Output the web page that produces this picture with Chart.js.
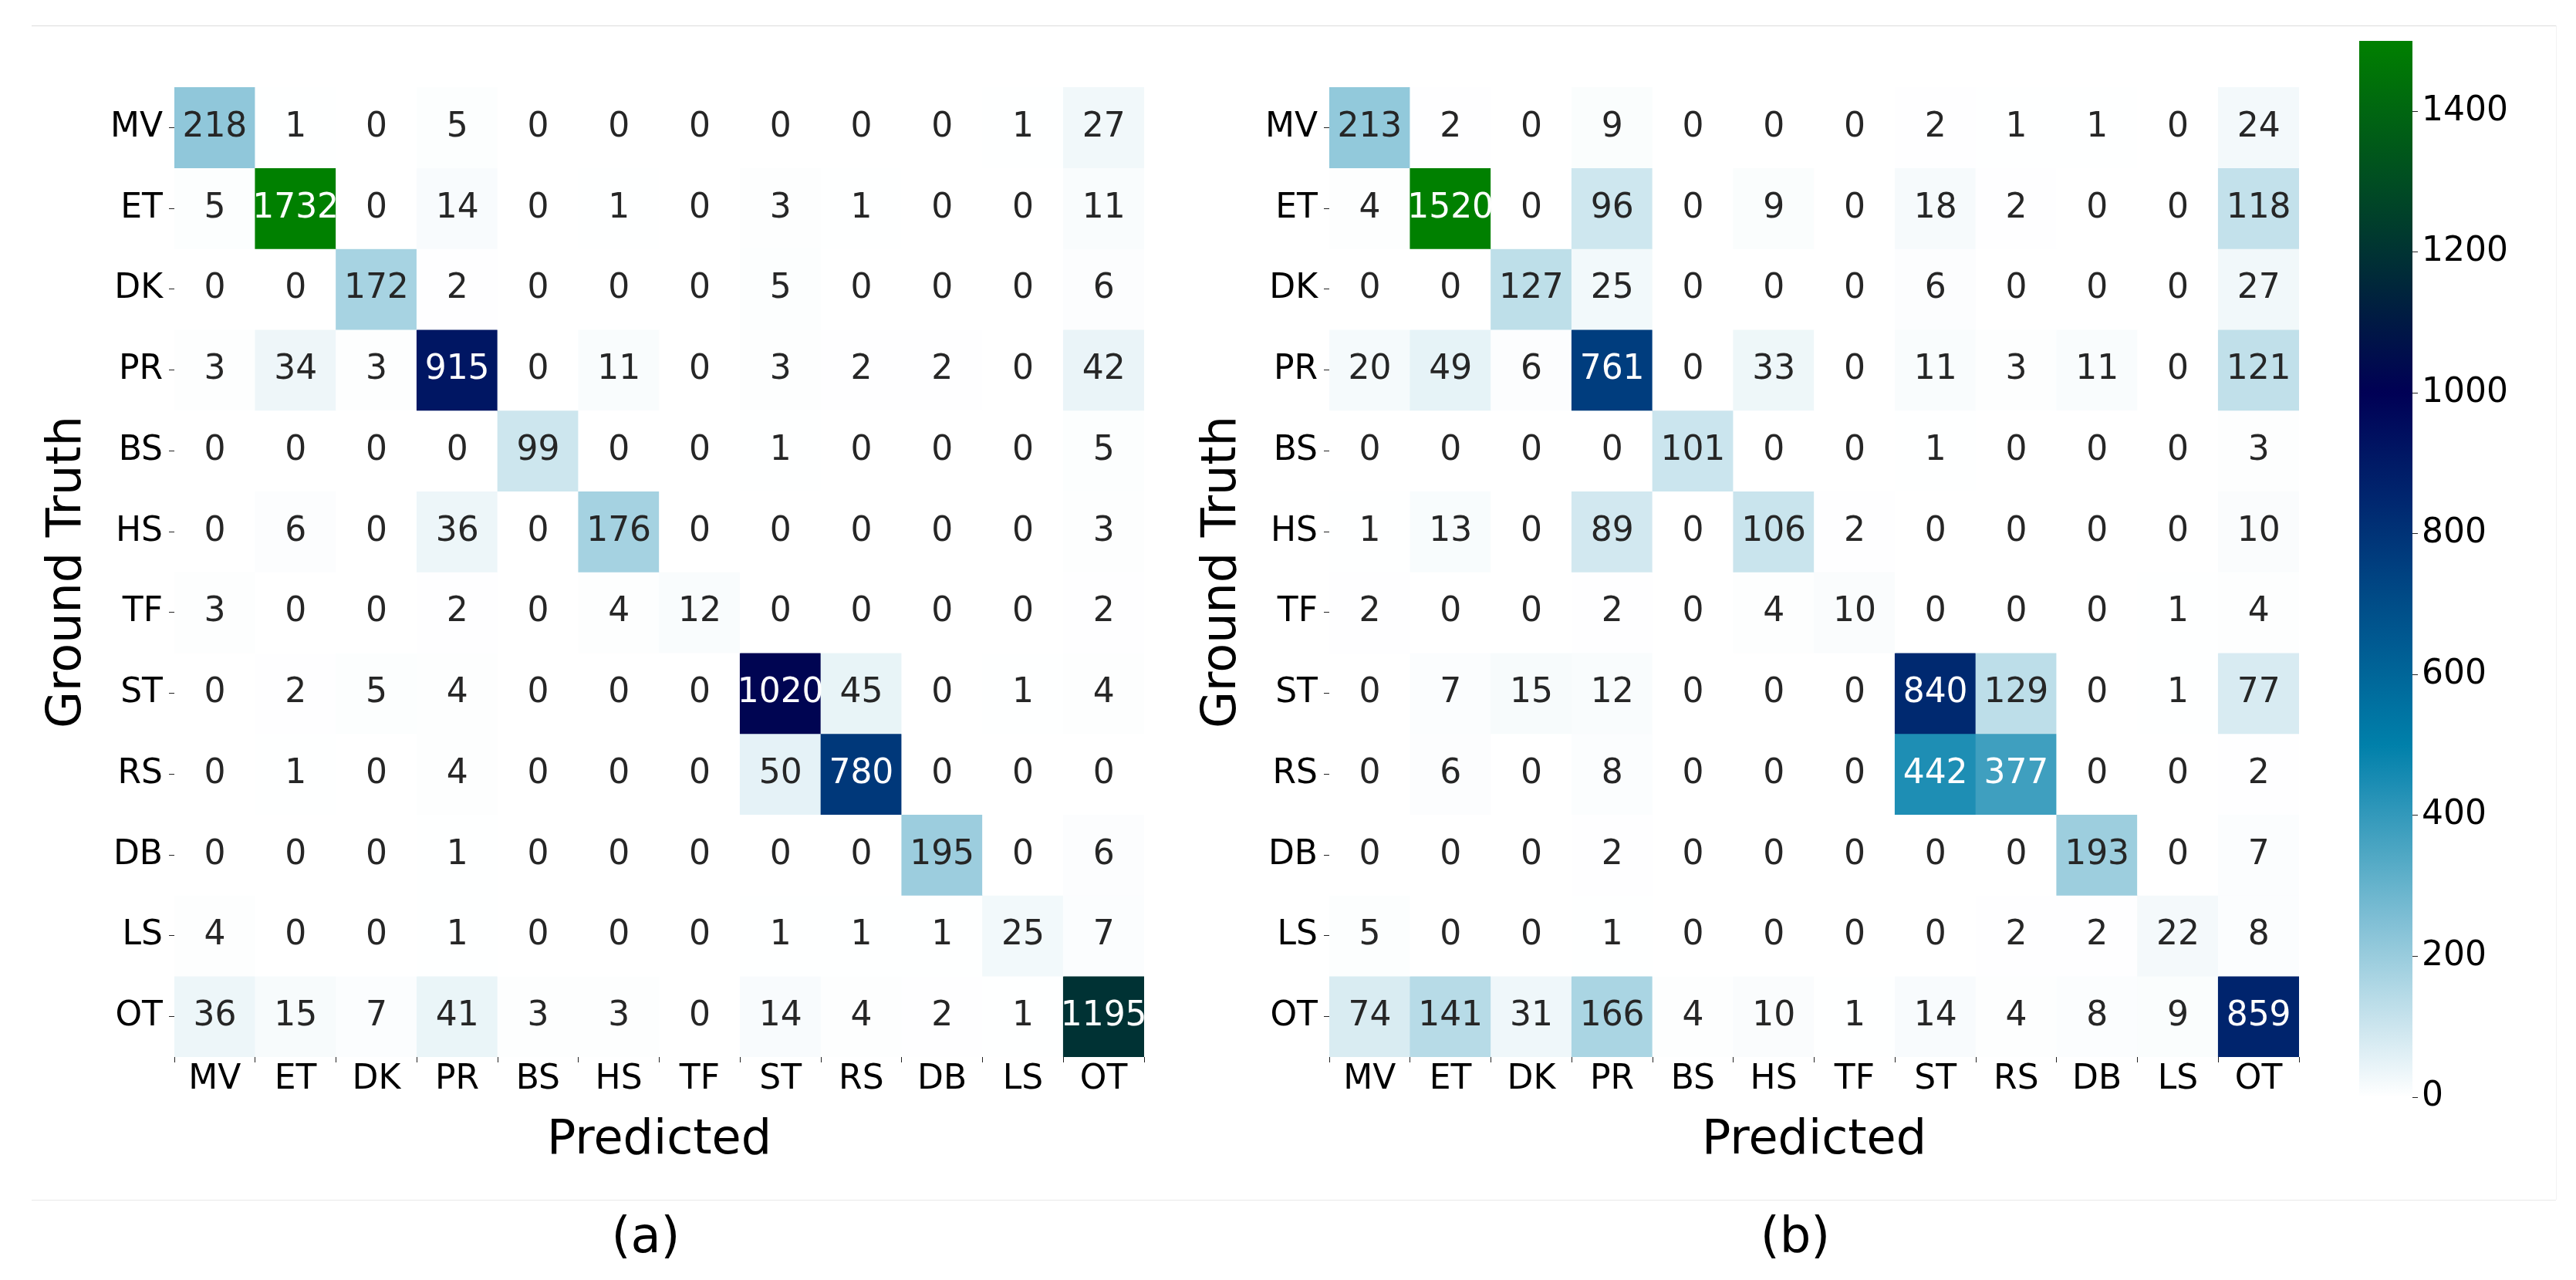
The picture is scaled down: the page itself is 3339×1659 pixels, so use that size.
<!DOCTYPE html>
<html>
<head>
<meta charset="utf-8">
<script src="https://cdn.jsdelivr.net/npm/chart.js"></script>
<style>
  body { margin: 0; background: #fff; width: 3339px; height: 1659px; overflow: hidden; position: relative; font-family: 'DejaVu Sans', sans-serif; }
  canvas { position: absolute; top: 0; }
  .rule { position: absolute; background: #dcdcdc; }
  .cap { position: absolute; width: 200px; text-align: center; font-size: 64px; line-height: 64px; color: #000; }
</style>
</head>
<body>
<div class="rule" style="left:41px; top:33px; width:3272px; height:1px;"></div>
<div class="rule" style="left:41px; top:1555px; width:3272px; height:1px; background:#e8e8e8;"></div>
<div class="rule" style="left:3313px; top:33px; width:1px; height:1522px; background:#f2f2f2;"></div>

<canvas id="cmA" width="1500" height="1540" style="left:0px"></canvas>
<canvas id="cmB" width="1500" height="1540" style="left:1497px"></canvas>
<canvas id="cbar" width="349" height="1540" style="left:2990px"></canvas>

<div class="cap" style="left:737px; top:1569px;">(a)</div>
<div class="cap" style="left:2227px; top:1569px;">(b)</div>

<script>
// class labels (rows = ground truth, columns = predicted)
const rowLabels = ['MV', 'ET', 'DK', 'PR', 'BS', 'HS', 'TF', 'ST', 'RS', 'DB', 'LS', 'OT'];
const colLabels = ['MV', 'ET', 'DK', 'PR', 'BS', 'HS', 'TF', 'ST', 'RS', 'DB', 'LS', 'OT'];

// (a)
const matrixA = [
  [218, 1, 0, 5, 0, 0, 0, 0, 0, 0, 1, 27],
  [5, 1732, 0, 14, 0, 1, 0, 3, 1, 0, 0, 11],
  [0, 0, 172, 2, 0, 0, 0, 5, 0, 0, 0, 6],
  [3, 34, 3, 915, 0, 11, 0, 3, 2, 2, 0, 42],
  [0, 0, 0, 0, 99, 0, 0, 1, 0, 0, 0, 5],
  [0, 6, 0, 36, 0, 176, 0, 0, 0, 0, 0, 3],
  [3, 0, 0, 2, 0, 4, 12, 0, 0, 0, 0, 2],
  [0, 2, 5, 4, 0, 0, 0, 1020, 45, 0, 1, 4],
  [0, 1, 0, 4, 0, 0, 0, 50, 780, 0, 0, 0],
  [0, 0, 0, 1, 0, 0, 0, 0, 0, 195, 0, 6],
  [4, 0, 0, 1, 0, 0, 0, 1, 1, 1, 25, 7],
  [36, 15, 7, 41, 3, 3, 0, 14, 4, 2, 1, 1195]
];

// (b)
const matrixB = [
  [213, 2, 0, 9, 0, 0, 0, 2, 1, 1, 0, 24],
  [4, 1520, 0, 96, 0, 9, 0, 18, 2, 0, 0, 118],
  [0, 0, 127, 25, 0, 0, 0, 6, 0, 0, 0, 27],
  [20, 49, 6, 761, 0, 33, 0, 11, 3, 11, 0, 121],
  [0, 0, 0, 0, 101, 0, 0, 1, 0, 0, 0, 3],
  [1, 13, 0, 89, 0, 106, 2, 0, 0, 0, 0, 10],
  [2, 0, 0, 2, 0, 4, 10, 0, 0, 0, 1, 4],
  [0, 7, 15, 12, 0, 0, 0, 840, 129, 0, 1, 77],
  [0, 6, 0, 8, 0, 0, 0, 442, 377, 0, 0, 2],
  [0, 0, 0, 2, 0, 0, 0, 0, 0, 193, 0, 7],
  [5, 0, 0, 1, 0, 0, 0, 0, 2, 2, 22, 8],
  [74, 141, 31, 166, 4, 10, 1, 14, 4, 8, 9, 859]
];

const colorMax = 1500;
const colorbarTicks = [0, 200, 400, 600, 800, 1000, 1200, 1400];

Chart.defaults.font.family = "'DejaVu Sans', sans-serif";
Chart.defaults.color = '#000';

// matplotlib "ocean_r"
function oceanR(v) {
  let t = Math.min(Math.max(v / colorMax, 0), 1);
  let x = 1 - t;
  let clip = a => Math.min(Math.max(a, 0), 1);
  return [clip(3 * x - 2), clip(Math.abs((3 * x - 1) / 2)), x];
}
function cellColor(v) {
  let c = oceanR(v);
  return 'rgb(' + c.map(k => Math.round(k * 255)).join(',') + ')';
}
// seaborn picks white text on dark cells
function textColor(v) {
  let lin = c => c <= 0.03928 ? c / 12.92 : Math.pow((c + 0.055) / 1.055, 2.4);
  let c = oceanR(v).map(lin);
  let lum = 0.2126 * c[0] + 0.7152 * c[1] + 0.0722 * c[2];
  return lum > 0.408 ? '#262626' : '#fff';
}

const cellText = {
  id: 'cellText',
  afterDatasetsDraw(chart) {
    const ctx = chart.ctx;
    ctx.save();
    ctx.font = "44px 'DejaVu Sans'";
    ctx.textAlign = 'center';
    ctx.textBaseline = 'middle';
    chart.data.datasets.forEach((ds, i) => {
      chart.getDatasetMeta(i).data.forEach((bar, j) => {
        ctx.fillStyle = textColor(ds.counts[j]);
        ctx.fillText(String(ds.counts[j]), bar.x, (bar.y + bar.base) / 2);
      });
    });
    ctx.restore();
  }
};

function heatmap(id, matrix) {
  return new Chart(document.getElementById(id), {
    type: 'bar',
    data: {
      labels: colLabels,
      datasets: matrix.map((row, r) => ({
        label: rowLabels[r],
        data: row.map(() => [r, r + 1]),
        counts: row,
        backgroundColor: row.map(cellColor),
        borderWidth: 0,
        barPercentage: 1,
        categoryPercentage: 1,
        grouped: false
      }))
    },
    options: {
      responsive: false,
      animation: false,
      events: [],
      layout: { padding: { left: 0, top: 113, right: 17, bottom: 0 } },
      plugins: { legend: { display: false }, tooltip: { enabled: false } },
      scales: {
        x: {
          grid: { display: true, drawOnChartArea: false, tickLength: 7, tickColor: '#222' },
          border: { display: false },
          ticks: { font: { size: 44, lineHeight: 1 }, padding: 1, color: '#000' },
          title: { display: true, text: 'Predicted', font: { size: 62 }, color: '#000', padding: { top: 0, bottom: 24 } },
          afterFit: s => { s.height = 170; }
        },
        y: {
          min: 0,
          max: 12,
          reverse: true,
          afterBuildTicks: s => { s.ticks = rowLabels.map((_, i) => ({ value: i + 0.5 })); },
          grid: { display: true, drawOnChartArea: false, tickLength: 7, tickColor: '#222' },
          border: { display: false },
          ticks: { font: { size: 44 }, padding: 8, color: '#000', callback: (v, i) => rowLabels[i] },
          title: { display: true, text: 'Ground Truth', font: { size: 62 }, color: '#000', padding: { top: 51, bottom: 0 } },
          afterFit: s => { s.width = 226; }
        }
      }
    },
    plugins: [cellText]
  });
}

heatmap('cmA', matrixA);
heatmap('cmB', matrixB);

// colour bar
new Chart(document.getElementById('cbar'), {
  type: 'bar',
  data: {
    labels: [''],
    datasets: [{
      data: [[0, colorMax]],
      borderWidth: 0,
      barPercentage: 1,
      categoryPercentage: 1,
      backgroundColor: c => {
        const area = c.chart.chartArea;
        if (!area) return cellColor(colorMax / 2);
        const y = c.chart.scales.y;
        const g = c.chart.ctx.createLinearGradient(0, y.getPixelForValue(0), 0, y.getPixelForValue(colorMax));
        for (let i = 0; i <= 30; i++) g.addColorStop(i / 30, cellColor(colorMax * i / 30));
        return g;
      }
    }]
  },
  options: {
    responsive: false,
    animation: false,
    events: [],
    layout: { padding: { left: 68, top: 53, right: 0, bottom: 118 } },
    plugins: { legend: { display: false }, tooltip: { enabled: false } },
    scales: {
      x: { display: false },
      y: {
        position: 'right',
        min: 0,
        max: colorMax,
        afterBuildTicks: s => { s.ticks = colorbarTicks.map(v => ({ value: v })); },
        grid: { display: true, drawOnChartArea: false, tickLength: 7, tickColor: '#222' },
        border: { display: false },
        ticks: { font: { size: 44 }, padding: 5, color: '#000', callback: v => String(v) },
        afterFit: s => { s.width = 212; }
      }
    }
  }
});
</script>
</body>
</html>
